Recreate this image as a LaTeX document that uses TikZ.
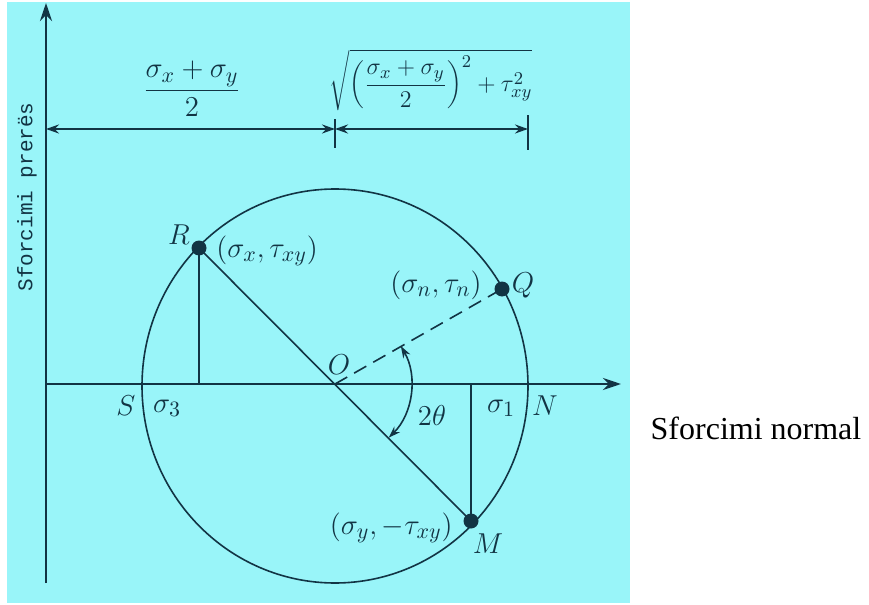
\documentclass[tikz,border=0pt]{standalone}
\usepackage{fontspec}
\setmainfont{Liberation Serif}
\setmonofont{Liberation Mono}
\usetikzlibrary{arrows.meta}
\definecolor{paper}{RGB}{153,245,249}
\definecolor{ink}{RGB}{18,52,68}
\tikzset{
  axis/.style={ink, line width=1.3pt, -{Stealth[length=9pt,width=6pt]}},
  dimline/.style={ink, line width=1.1pt, {Stealth[length=6.5pt,width=4.5pt]}-{Stealth[length=6.5pt,width=4.5pt]}},
  thinline/.style={ink, line width=0.8pt},
  lbl/.style={text=ink, inner sep=0pt, font=\fontsize{15}{17}\selectfont}
}
\begin{document}
\begin{tikzpicture}[x=0.5pt,y=-0.5pt]
\useasboundingbox (0,0) rectangle (869,605);
\fill[paper] (7,2) rectangle (630,603);

\coordinate (O)  at (335,384);
\coordinate (C)  at (335,386);
\coordinate (X0) at (46,384);
\coordinate (X1) at (621,384);
\coordinate (Y0) at (46,583);
\coordinate (Y1) at (46,3);
\coordinate (R)  at (199,248);
\coordinate (M)  at (471,521);
\coordinate (Q)  at (502,289);
\coordinate (R0) at (199,384);
\coordinate (M0) at (471,384);
\coordinate (D0) at (46,129);
\coordinate (D1) at (335,129);
\coordinate (D2) at (528,129);
\coordinate (T1) at (335,119);
\coordinate (T2) at (335,148);
\coordinate (T3) at (528,115);
\coordinate (T4) at (528,150);

\draw[axis] (Y0) -- (Y1);
\draw[axis] (X0) -- (X1);
\draw[thinline] (C) ellipse [x radius=193, y radius=197];
\draw[thinline] (R) -- (M);
\draw[thinline] (R) -- (R0);
\draw[thinline] (M) -- (M0);
\draw[thinline, dash pattern=on 7pt off 4pt] (O) -- (Q);
\draw[dimline] (D0) -- (D1);
\draw[dimline] (D1) -- (D2);
\draw[thinline] (T1) -- (T2);
\draw[thinline] (T3) -- (T4);
\draw[thinline, {Stealth[length=6pt,width=4pt]}-{Stealth[length=6pt,width=4pt]}] (O) ++(45:76) arc (45:-30:76);

\foreach \p in {R,M,Q}
{
    \fill[ink] (\p) circle (7.5);
}

\node[lbl] (lR) at (179,235) {$R$};
\node[lbl, anchor=west] (lRc) at (216,251) {$(\sigma_x, \tau_{xy})$};
\node[lbl, anchor=east] (lQc) at (482,285) {$(\sigma_n, \tau_n)$};
\node[lbl] (lQ) at (523,285) {$Q$};
\node[lbl, anchor=east] (lMc) at (453,528) {$(\sigma_y, -\tau_{xy})$};
\node[lbl] (lM) at (488,544) {$M$};
\node[lbl] (lO) at (339,365) {$O$};
\node[lbl] (lS) at (126,406) {$S$};
\node[lbl] (ls3) at (167,408) {$\sigma_3$};
\node[lbl] (ls1) at (501,408) {$\sigma_1$};
\node[lbl] (lN) at (545,406) {$N$};
\node[lbl] (l2t) at (432,415) {$2\theta$};
\node[lbl] (lfr) at (192,89) {$\displaystyle\frac{\sigma_x + \sigma_y}{2}$};
\node[lbl, font=\fontsize{13}{15}\selectfont] (lsq) at (431,80) {$\displaystyle\sqrt{\left(\frac{\sigma_x + \sigma_y}{2}\right)^{2} + \tau_{xy}^{2}}$};
\node[rotate=90, text=ink, inner sep=0pt, font=\ttfamily\fontsize{10.5}{12}\selectfont] (lY) at (27,197) {Sforcimi prerës};
\node[inner sep=0pt, font=\fontsize{16}{19}\selectfont] (lX) at (756,428) {Sforcimi normal};
\end{tikzpicture}
\end{document}
